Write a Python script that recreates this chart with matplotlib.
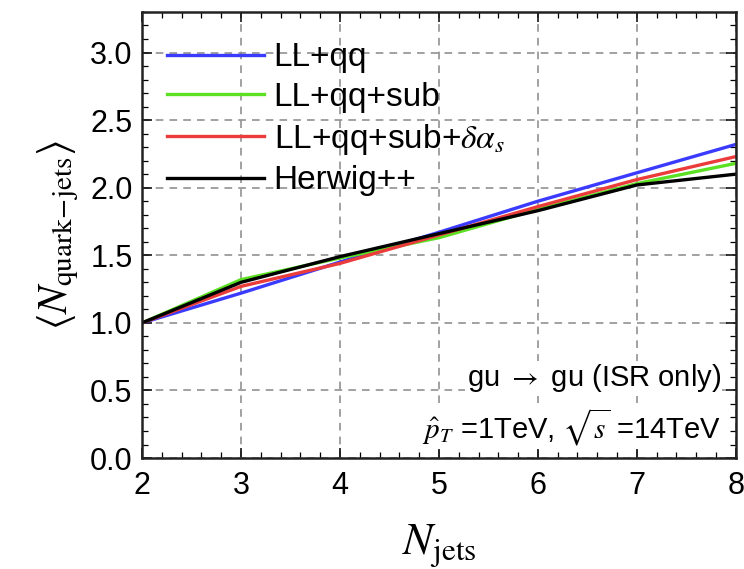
import matplotlib
matplotlib.use("Agg")
import matplotlib.pyplot as plt
from matplotlib.ticker import MultipleLocator

plt.rcParams["font.family"] = ["Liberation Sans", "DejaVu Sans"]
plt.rcParams["mathtext.fontset"] = "stix"

n_jets = [2, 3, 4, 5, 6, 7, 8]
ll_qq = [1.00, 1.22, 1.45, 1.67, 1.90, 2.11, 2.32]
ll_qq_sub = [1.00, 1.32, 1.48, 1.63, 1.84, 2.03, 2.18]
ll_qq_sub_das = [1.00, 1.27, 1.44, 1.65, 1.86, 2.06, 2.23]
herwig = [1.00, 1.30, 1.49, 1.66, 1.83, 2.02, 2.10]

labels = ["LL+qq", "LL+qq+sub", r"LL+qq+sub+$\delta\alpha_s$", "Herwig++"]
colors = ["#3b3bff", "#5ce024", "#ec3b3b", "#000000"]

fig = plt.figure(figsize=(7.44, 5.69), dpi=100)
ax = fig.add_axes([0.191, 0.195, 0.798, 0.784])

for ys, lab, c in zip([ll_qq, ll_qq_sub, ll_qq_sub_das, herwig], labels, colors):
    ax.plot(n_jets, ys, color=c, lw=2.4, label=lab)

ax.set_xlim(2, 8)
ax.set_ylim(0, 3.3)
ax.xaxis.set_major_locator(MultipleLocator(1))
ax.xaxis.set_minor_locator(MultipleLocator(0.2))
ax.yaxis.set_major_locator(MultipleLocator(0.5))
ax.yaxis.set_minor_locator(MultipleLocator(0.1))
ax.set_yticks(ax.get_yticks())
ax.set_yticklabels([f"{v:.1f}" for v in ax.get_yticks()])
ax.set_ylim(0, 3.3)
ax.grid(True, which="major", ls=(0, (5, 4)), color="#888888", lw=1.1)
ax.tick_params(which="both", direction="in", top=True, right=True, labelsize=22)
ax.tick_params(which="major", length=7, width=1.1)
ax.tick_params(which="minor", length=4, width=0.9)
ax.tick_params(axis="x", pad=9)
ax.tick_params(axis="y", pad=7)
for s in ax.spines.values():
    s.set_linewidth(1.8)
    s.set_color("#222222")

ax.set_xlabel(r"$N_{\rm jets}$", fontsize=32, labelpad=16)
ax.set_ylabel(r"$\langle N_{\rm quark\!-\!jets}\rangle$", fontsize=30, labelpad=6)

leg = ax.legend(loc="upper left", frameon=False, fontsize=24, handlelength=2.9,
                handletextpad=0.3, labelspacing=0.26, borderpad=0, borderaxespad=0,
                bbox_to_anchor=(0.042, 0.932))

box = dict(facecolor="white", edgecolor="none", pad=1)
ax.text(0.975, 0.179, r"gu $\rightarrow$ gu (ISR only)", transform=ax.transAxes,
        ha="right", va="center", fontsize=21, bbox=box)
ax.text(0.975, 0.07, r"$\hat{p}_T$ =1TeV, $\sqrt{s}$ =14TeV", transform=ax.transAxes,
        ha="right", va="center", fontsize=21, bbox=box)

fig.savefig("out.png", dpi=100)
